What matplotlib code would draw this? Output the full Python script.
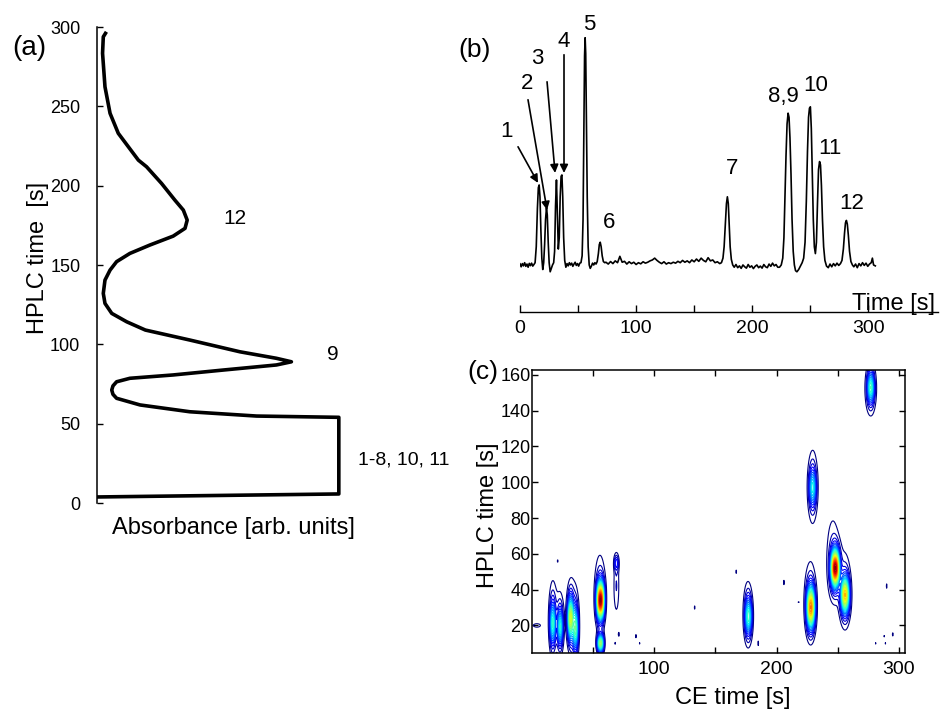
import numpy as np
import matplotlib.pyplot as plt

plt.rcParams['font.family'] = ['Liberation Sans', 'DejaVu Sans']

# (a) first dimension HPLC trace (absorbance vs HPLC time)
hplc_time = [3.8, 5.7, 54.0, 54.8, 57.5, 61.8, 66.0, 68.5, 71.2, 73.8, 76.4, 78.6, 80.7,
             83.8, 87.0, 89.0, 91.2, 95.3, 102.7, 109.0, 114.2, 119.5, 125.8, 132.1,
             140.5, 146.8, 152.1, 157.3, 162.6, 168.2, 173.1, 178.3, 184.6, 190.9,
             201.4, 211.9, 216.1, 222.4, 233.0, 245.6, 262.3, 283.4, 293.8, 296.0]
hplc_abs = [0.0, 1.0, 1.0, 0.66, 0.384, 0.178, 0.081, 0.066, 0.061, 0.066, 0.081, 0.136, 0.315,
            0.522, 0.742, 0.804, 0.742, 0.591, 0.384, 0.2, 0.123, 0.061, 0.033, 0.026,
            0.033, 0.054, 0.081, 0.136, 0.219, 0.315, 0.364, 0.373, 0.357, 0.322,
            0.267, 0.205, 0.171, 0.14, 0.088, 0.054, 0.033, 0.023, 0.026, 0.035]
hplc_ticks = [0, 50, 100, 150, 200, 250, 300]

# (b) CE electropherogram
trace_time = [0, 1, 2, 3, 4, 5, 6, 7, 8, 9, 10, 11, 12,
              13, 14, 15, 15.8, 16.5, 17.2, 18, 18.8, 19.6,
              20.4, 21.2, 22, 22.8, 23.5, 24.3, 25.1, 26, 27, 28,
              29, 29.8, 30.6, 31.4, 32.2, 33,
              33.8, 34.6, 35.4, 36.1, 36.8, 37.6, 38.5, 39.5,
              40.5, 41.5, 42.5, 43.5, 44.5, 45.5, 46.5, 47.5, 48.5, 49.5, 50.5, 51.5, 52.5,
              53.5, 54.3, 55, 55.6, 56.1, 56.6, 57.2, 57.9, 58.7, 59.6, 60.5, 61.5, 62.5, 63.5, 64.5,
              65.5, 66.5, 67.5, 68.3, 69.1, 69.9, 70.8, 71.8, 73,
              74, 76, 78, 80, 82, 84, 86, 88, 90, 92, 94, 96, 98, 100, 102, 104, 106, 108, 110,
              112, 114, 116, 118, 120, 122, 124, 126, 128, 130, 132, 134, 136, 138, 140, 142,
              144, 146, 148, 150, 152, 154, 156, 158, 160, 162, 164, 166, 168, 170, 172,
              173.5, 174.8, 175.8, 176.9, 177.8, 178.6, 179.4, 180.2, 181, 182, 183.2,
              184.5, 186, 187.5, 189, 190.5, 192, 193.5, 195, 196.5, 198, 199.5, 201, 202.5,
              204, 205.5, 207, 208.5, 210, 211.5, 213, 214.5, 216, 217.5, 219, 220.5, 222,
              223.5, 225, 226.3, 227.3, 228.2, 229.1, 230, 230.9, 231.7, 232.5, 233.4, 234.3,
              235.3, 236.3, 237.3, 238.5, 240, 241.5, 243,
              244.3, 245.5, 246.6, 247.6, 248.5, 249.3, 250.1, 250.9, 251.7, 252.6, 253.5,
              254.4, 255.3, 256.2, 257.1, 258, 258.8, 259.6, 260.5, 261.5, 262.6, 264, 265.5,
              267, 268.5, 270, 271.5, 273, 274.5, 276,
              277.3, 278.5, 279.5, 280.3, 281.1, 281.9, 282.8, 283.8, 285, 286.3,
              287.5, 289, 290.5, 292, 293.5, 295, 296.5, 298, 299.5, 301, 302.5, 303.5, 304.5, 306]
trace_signal = [0.005, -0.008, 0.006, -0.004, 0.01, -0.006, 0.004, -0.01, 0.007, -0.003, 0.008, -0.005, 0.002,
                0.01, 0.08, 0.25, 0.34, 0.352, 0.3, 0.15, 0.03, -0.02,
                0.01, 0.09, 0.2, 0.251, 0.22, 0.1, 0.01, -0.03, -0.015, 0.0,
                0.01, 0.06, 0.26, 0.374, 0.22, 0.07,
                0.12, 0.3, 0.39, 0.396, 0.3, 0.12, 0.02, -0.01,
                0.006, -0.004, 0.01, 0.0, 0.008, -0.006, 0.004, 0.012, -0.002, 0.006, -0.005, 0.008, 0.01,
                0.04, 0.2, 0.6, 0.92, 1.0, 0.93, 0.65, 0.3, 0.08, 0.0, -0.015, -0.005, 0.008, 0.0, 0.01,
                0.004, 0.015, 0.05, 0.09, 0.1, 0.08, 0.04, 0.015, 0.01,
                0.012, 0.004, 0.015, 0.006, 0.018, 0.01, 0.038, 0.012, 0.016, 0.004, 0.014, 0.006, 0.012,
                0.002, 0.01, 0.005, 0.014, 0.008, 0.012, 0.018, 0.022, 0.03, 0.02, 0.012, 0.006, 0.014,
                0.004, 0.01, 0.006, 0.012, 0.008, 0.016, 0.01, 0.02, 0.012, 0.018, 0.01, 0.022, 0.014,
                0.026, 0.016, 0.03, 0.02, 0.014, 0.032, 0.018, 0.022, 0.01, 0.014, 0.006,
                0.01, 0.03, 0.08, 0.18, 0.27, 0.3, 0.27, 0.17, 0.08, 0.025, 0.0,
                -0.01, 0.002, -0.012, -0.004, -0.015, 0.0, -0.008, -0.014, 0.002, -0.01, -0.004, -0.016,
                -0.006, 0.0, -0.012, -0.005, -0.014, 0.002, -0.008, -0.012, 0.004, -0.006, 0.008, -0.004,
                0.002, -0.01,
                -0.01, 0.0, 0.03, 0.12, 0.3, 0.48, 0.62, 0.668, 0.65, 0.56, 0.4, 0.2,
                0.06, 0.0, -0.025, -0.03, -0.02, -0.005, 0.01,
                0.03, 0.1, 0.28, 0.5, 0.65, 0.69, 0.696, 0.6, 0.42, 0.2, 0.08,
                0.05, 0.1, 0.27, 0.42, 0.455, 0.44, 0.35, 0.2, 0.08, 0.02, -0.005, -0.012,
                0.004, -0.008, 0.006, -0.004, 0.008, -0.002, 0.006,
                0.02, 0.07, 0.14, 0.185, 0.196, 0.18, 0.13, 0.06, 0.015, 0.0,
                -0.008, 0.004, -0.012, 0.006, -0.004, 0.01, -0.002, 0.008, -0.006, 0.004, 0.01, 0.03, 0.0, -0.004]
peak_labels = ['5', '6', '7', '8,9', '10', '11', '12']
peak_label_t = [59.5, 76.7, 182.5, 226.4, 254.3, 267.2, 286]
peak_label_s = [1.06, 0.185, 0.426, 0.74, 0.79, 0.514, 0.269]
arrow_labels = ['1', '2', '3', '4']
arrow_label_t = [-11.2, 6.0, 14.7, 37.9]
arrow_label_s = [0.586, 0.80, 0.907, 0.982]
arrow_tail_t = [-1.7, 6.9, 23.3, 37.9]
arrow_tail_s = [0.52, 0.727, 0.806, 0.925]
arrow_head_t = [15.5, 23.3, 30.2, 37.9]
arrow_head_s = [0.361, 0.242, 0.405, 0.405]

# (c) 2D spots: CE time, HPLC time, intensity, CE sigma, HPLC sigma
# cores of the main spots
spot_ce = [17, 23, 31.5, 35.5, 56, 56, 69, 69, 177, 228, 229.5, 248, 256, 277]
spot_hplc = [21, 19, 24, 18, 34, 10, 42, 55, 25, 30, 97, 52, 37, 153]
spot_amp = [0.35, 0.33, 0.52, 0.38, 0.92, 0.55, 0.09, 0.15, 0.37, 0.72, 0.32, 0.92, 0.64, 0.37]
spot_wce = [1.5, 1.4, 1.5, 1.4, 1.9, 1.7, 1.8, 1.3, 1.8, 2.1, 1.8, 2.2, 2.2, 1.8]
spot_whplc = [8, 7, 8, 8, 7, 3.5, 12, 3, 7, 8, 7, 7, 7, 6]
# faint outer halos of the main spots
halo_ce = [17, 23, 31.5, 35.5, 55.5, 176.5, 227.5, 229.5, 246, 256, 277]
halo_hplc = [25, 22, 26, 22, 40, 27, 35, 98, 57, 40, 152]
halo_amp = [0.1, 0.1, 0.1, 0.1, 0.1, 0.1, 0.1, 0.1, 0.1, 0.1, 0.1]
halo_wce = [2.5, 2.3, 2.4, 2.4, 3.4, 2.8, 3.6, 3.2, 4.0, 3.5, 3.5]
halo_whplc = [16, 12.5, 14, 15, 16, 13.5, 16, 16, 18, 16, 11]
# small isolated dots
dot_ce = [4, 71, 85, 88, 68, 133, 167, 185, 206, 218, 290, 281, 288, 295, 289, 21]
dot_hplc = [20, 15, 14, 10, 10, 30, 50, 10, 44, 33, 42, 10, 14, 15, 10, 56]
dot_amp = [0.08, 0.06, 0.06, 0.055, 0.055, 0.06, 0.06, 0.06, 0.06, 0.055, 0.06, 0.055, 0.055, 0.06, 0.055, 0.055]
dot_wce = [3, 0.6, 0.6, 0.5, 0.5, 0.5, 0.5, 0.5, 0.5, 0.8, 0.5, 0.5, 0.5, 0.6, 0.5, 0.5]
dot_whplc = [1, 1.5, 1.5, 1, 1, 1.5, 1.5, 2, 2, 0.5, 2, 1, 1, 1.5, 1, 1]

fig = plt.figure(figsize=(9.43, 7.11), dpi=100)
W, H = 943, 711

# ---------- (a)
axa = fig.add_axes([97 / W, 1 - 503 / H, 266 / W, 476 / H])
axa.plot(hplc_abs, hplc_time, color='k', lw=2.6, solid_joinstyle='round')
axa.set_ylim(0, 300)
axa.set_xlim(0, 1.1)
for s in ['top', 'right', 'bottom']:
    axa.spines[s].set_visible(False)
axa.spines['left'].set_linewidth(1.1)
axa.set_xticks([])
axa.set_yticks(hplc_ticks)
axa.tick_params(axis='y', direction='in', length=4, width=1, pad=12, labelsize=13)
axa.text(0.57, 179.6, '12', fontsize=15, ha='center', va='center')
axa.text(0.975, 93.3, '9', fontsize=15, ha='center', va='center')
axa.text(1.27, 27, '1-8, 10, 11', fontsize=14, ha='center', va='center', clip_on=False)
fig.text(29 / W, 1 - 48 / H, '(a)', fontsize=20, ha='center', va='center')
fig.text(38 / W, 1 - 258 / H, 'HPLC time  [s]', fontsize=17, rotation=90, ha='center', va='center')
fig.text(233 / W, 1 - 528 / H, 'Absorbance [arb. units]', fontsize=17, ha='center', va='center')

# ---------- (b)
axb = fig.add_axes([520 / W, 1 - 312 / H, 418 / W, 297 / H])
axb.plot(trace_time, trace_signal, color='k', lw=1.2)
axb.set_xlim(0, 360)
axb.set_ylim(-0.207, 1.10)
for s in ['top', 'right', 'left']:
    axb.spines[s].set_visible(False)
axb.spines['bottom'].set_linewidth(1.0)
axb.set_yticks([])
axb.set_xticks([0, 100, 200, 300])
axb.set_xticks([50, 150, 250], minor=True)
axb.tick_params(axis='x', which='both', direction='in', length=5, width=1, pad=6, labelsize=14)
for lab, t, s in zip(peak_labels, peak_label_t, peak_label_s):
    axb.text(t, s, lab, fontsize=16, ha='center', va='center', clip_on=False)
for lab, t, s, tt, ts, ht, hs in zip(arrow_labels, arrow_label_t, arrow_label_s,
                                     arrow_tail_t, arrow_tail_s, arrow_head_t, arrow_head_s):
    axb.text(t, s, lab, fontsize=16, ha='center', va='center', clip_on=False)
    axb.annotate('', xy=(ht, hs), xytext=(tt, ts), annotation_clip=False,
                 arrowprops=dict(arrowstyle='-|>', color='k', lw=1.2, mutation_scale=12,
                                 shrinkA=0, shrinkB=0))
fig.text(893 / W, 1 - 304 / H, 'Time [s]', fontsize=17, ha='center', va='center')
fig.text(475 / W, 1 - 50 / H, '(b)', fontsize=19, ha='center', va='center')

# ---------- (c)
axc = fig.add_axes([532 / W, 1 - 653 / H, 373 / W, 283 / H])
ce_grid = np.linspace(0, 305, 611)
hplc_grid = np.linspace(3, 166, 327)
X, Y = np.meshgrid(ce_grid, hplc_grid)
Z = np.zeros_like(X)
all_ce = spot_ce + halo_ce + dot_ce
all_hplc = spot_hplc + halo_hplc + dot_hplc
all_amp = spot_amp + halo_amp + dot_amp
all_wce = spot_wce + halo_wce + dot_wce
all_whplc = spot_whplc + halo_whplc + dot_whplc
for cx, cy, a, sx, sy in zip(all_ce, all_hplc, all_amp, all_wce, all_whplc):
    Z += a * np.exp(-0.5 * ((X - cx) / sx) ** 2 - 0.5 * ((Y - cy) / sy) ** 2)
axc.contour(X, Y, Z, levels=np.linspace(0.05, 1.0, 26), cmap='jet', linewidths=0.8)
axc.set_xlim(0, 305)
axc.set_ylim(4.6, 162.7)
axc.set_xticks([100, 200, 300])
axc.set_xticks([50, 150, 250], minor=True)
axc.set_yticks([20, 40, 60, 80, 100, 120, 140, 160])
axc.tick_params(which='both', direction='in', length=4, width=1, top=True, right=True)
axc.tick_params(axis='x', pad=6, labelsize=14)
axc.tick_params(axis='y', pad=1, labelsize=13)
for s in axc.spines.values():
    s.set_linewidth(1.1)
fig.text(488 / W, 1 - 515 / H, 'HPLC time [s]', fontsize=17, rotation=90, ha='center', va='center')
fig.text(733 / W, 1 - 698 / H, 'CE time [s]', fontsize=17, ha='center', va='center')
fig.text(483 / W, 1 - 372 / H, '(c)', fontsize=19, ha='center', va='center')

fig.savefig('out.png', dpi=100)
